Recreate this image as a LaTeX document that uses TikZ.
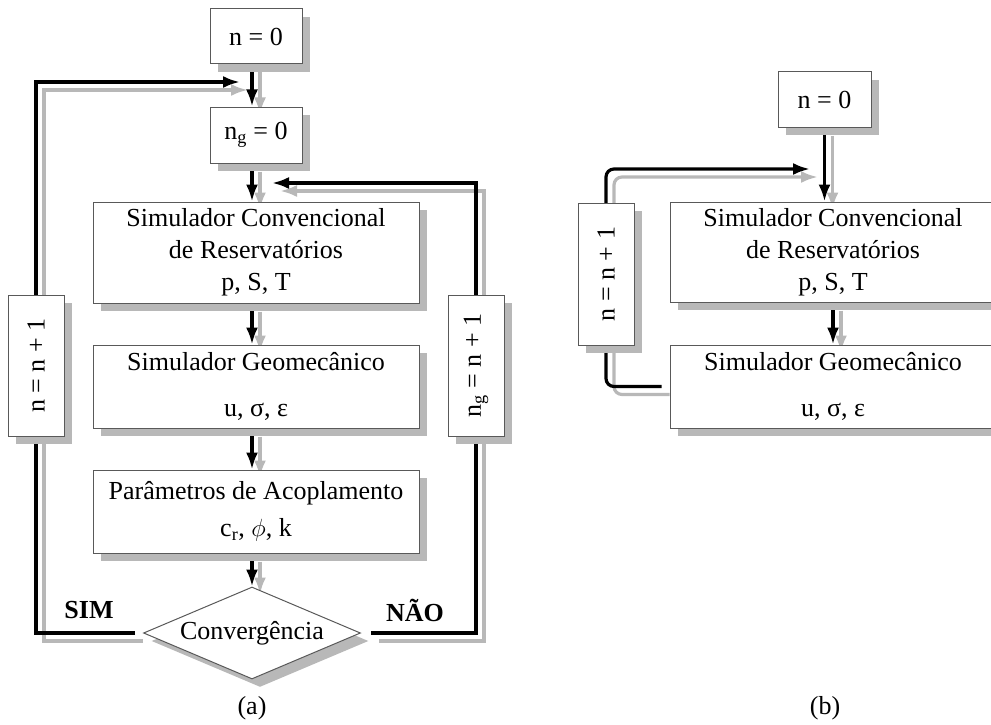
\documentclass[tikz,border=0pt]{standalone}
\usepackage{fontspec}
\setmainfont{Liberation Serif}
\usepackage{graphicx}
\usetikzlibrary{arrows.meta,shapes.geometric,shadows,backgrounds}

\definecolor{shgray}{gray}{0.72}
\definecolor{edgegray}{gray}{0.35}
\newcommand{\fsz}{\fontsize{26}{32}\selectfont}
% grey copy first, then the black line
\newcommand{\lnk}[2][]{\draw[shline,#1] #2; \draw[mainline,#1] #2;}

\tikzset{
  box/.style={draw=edgegray, line width=1pt, fill=white, align=center, inner sep=0pt,
    drop shadow={shadow xshift=8pt, shadow yshift=-8pt, fill=shgray, opacity=1}},
  mainline/.style={line width=3.2pt, black},
  shline/.style={line width=3.2pt, shgray, transform canvas={shift={(8,8)}}},
  tip/.style={-{Latex[length=17pt,width=12pt]}}
}

\begin{document}
\begin{tikzpicture}[x=1pt, y=-1pt, every node/.style={font=\fsz}]
    \useasboundingbox (0,0) rectangle (991,725);
    \clip (0,0) rectangle (991,725);

    % (a)
    \node[box, minimum width=92pt, minimum height=55pt] (a0) at (256,36.5) {n = 0};
    \node[box, minimum width=92pt, minimum height=56pt] (ag) at (256,135) {n\textsubscript{g} = 0};
    \node[box, minimum width=326pt, minimum height=101pt] (conv) at (256,252.5) {Simulador Convencional\\de Reservatórios\\p, S, T};
    \node[box, minimum width=326pt, minimum height=83pt] (geo) at (256,386.5) {Simulador Geomecânico\\[14pt]u, σ, ε};
    \node[box, minimum width=326pt, minimum height=83pt] (par) at (256,511.5) {Parâmetros de Acoplamento\\[5pt]c\textsubscript{r}, $\phi$, k};
    \node[box, diamond, aspect=2.36, minimum width=217pt, minimum height=92pt] (dia) at (252,633) {Convergência};
    \node[box, minimum width=56pt, minimum height=141pt] (nl) at (36,365.5) {\rotatebox{90}{n = n + 1}};
    \node[box, minimum width=56pt, minimum height=141pt] (nr) at (476,365.5) {\rotatebox{90}{n\textsubscript{g} = n + 1}};
    \node[font=\fsz\bfseries] (sim) at (89,610) {SIM};
    \node[font=\fsz\bfseries] (nao) at (415,610) {NÃO};
    \node (la) at (252,708) {(a)};
    \coordinate (ltip) at (240,82);
    \coordinate (rtip) at (272,183);

    % (b)
    \node[box, minimum width=93pt, minimum height=55pt] (b0) at (824.5,99.5) {n = 0};
    \node[box, minimum width=326pt, minimum height=100pt] (bconv) at (833,252) {Simulador Convencional\\de Reservatórios\\p, S, T};
    \node[box, minimum width=326pt, minimum height=83pt] (bgeo) at (833,386.5) {Simulador Geomecânico\\[14pt]u, σ, ε};
    \node[box, minimum width=56pt, minimum height=142pt] (bn) at (606,274) {\rotatebox{90}{n = n + 1}};
    \node (lb) at (825,708) {(b)};
    \coordinate (btip) at (810,169);

    \begin{scope}[on background layer]
        \lnk[tip]{(dia.north |- a0.south) -- (dia.north |- ag.north)}
        \lnk[tip]{(dia.north |- ag.south) -- (dia.north |- conv.north)}
        \lnk[tip]{(dia.north |- conv.south) -- (dia.north |- geo.north)}
        \lnk[tip]{(dia.north |- geo.south) -- (dia.north |- par.north)}
        \lnk[tip]{(dia.north |- par.south) -- (dia.north)}
        \lnk[tip]{([xshift=-8pt]dia.west) -| (nl.center) |- (ltip)}
        \lnk[tip]{([xshift=10pt]dia.east) -| (nr.center) |- (rtip)}
        \lnk[tip]{(b0.south) -- (b0.south |- bconv.north)}
        \lnk[tip]{(bconv.south) -- (bgeo.north)}
        \lnk[tip, rounded corners=8pt]{([xshift=-8pt]bgeo.west) -| (bn.center) |- (btip)}
    \end{scope}
\end{tikzpicture}
\end{document}
